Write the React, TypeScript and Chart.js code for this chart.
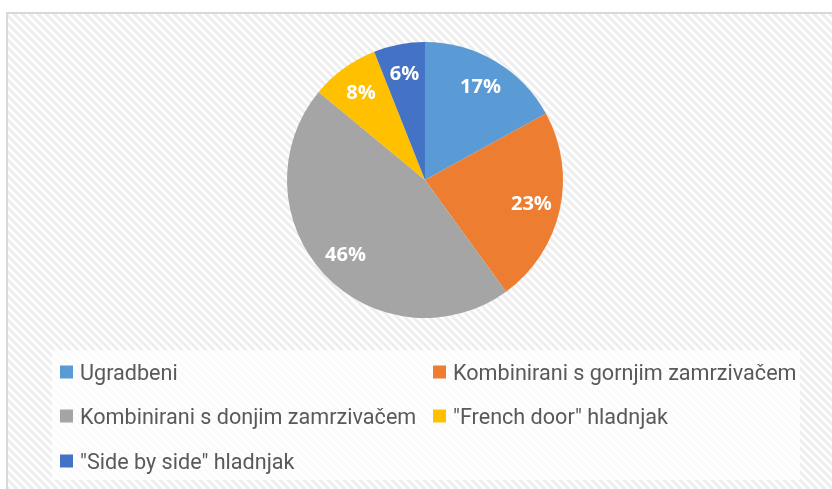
import React, { useEffect, useRef } from "react";
import { Chart, registerables } from "chart.js";

Chart.register(...registerables);

const categories = [
  "Ugradbeni",
  "Kombinirani s gornjim zamrzivačem",
  "Kombinirani s donjim zamrzivačem",
  "\"French door\" hladnjak",
  "\"Side by side\" hladnjak",
];
const shares = [17, 23, 46, 8, 6];
const sliceColors = ["#5B9BD5", "#ED7D31", "#A5A5A5", "#FFC000", "#4472C4"];

function makePattern(ctx: CanvasRenderingContext2D) {
  const s = 8;
  const c = document.createElement("canvas");
  c.width = s;
  c.height = s;
  const g = c.getContext("2d")!;
  g.fillStyle = "#ffffff";
  g.fillRect(0, 0, s, s);
  g.strokeStyle = "#eeeeee";
  g.lineWidth = 3;
  for (let k = -1; k <= 1; k++) {
    g.beginPath();
    g.moveTo(k * s - 2, -2);
    g.lineTo(k * s + s + 2, s + 2);
    g.stroke();
  }
  return ctx.createPattern(c, "repeat")!;
}

const bgPlugin = {
  id: "bgPlugin",
  beforeDraw(chart: any) {
    const ctx = chart.ctx as CanvasRenderingContext2D;
    ctx.save();
    ctx.fillStyle = "#ffffff";
    ctx.fillRect(0, 0, chart.width, chart.height);
    ctx.fillStyle = makePattern(ctx);
    ctx.fillRect(7, 13, chart.width - 7, chart.height - 13);
    ctx.fillStyle = "#d9d9d9";
    ctx.fillRect(6, 12, chart.width - 6, 2);
    ctx.fillRect(6, 12, 2, chart.height - 12);
    ctx.fillStyle = "rgba(255,255,255,0.7)";
    ctx.fillRect(52, 350, 748, 130);
    ctx.restore();
  },
};

const labelPlugin = {
  id: "labelPlugin",
  afterDatasetsDraw(chart: any) {
    const ctx = chart.ctx as CanvasRenderingContext2D;
    const meta = chart.getDatasetMeta(0);
    const data = chart.data.datasets[0].data as number[];
    const total = data.reduce((a, b) => a + b, 0);
    ctx.save();
    ctx.fillStyle = "#ffffff";
    ctx.font = "bold 20px 'Open Sans'";
    ctx.textAlign = "center";
    ctx.textBaseline = "middle";
    meta.data.forEach((arc: any, i: number) => {
      const mid = (arc.startAngle + arc.endAngle) / 2;
      const r = arc.outerRadius * 0.79;
      const x = arc.x + Math.cos(mid) * r;
      const y = arc.y + Math.sin(mid) * r;
      ctx.fillText(Math.round((data[i] / total) * 100) + "%", x, y + 1);
    });
    ctx.restore();
  },
  afterDraw(chart: any) {
    const ctx = chart.ctx as CanvasRenderingContext2D;
    const labels = chart.data.labels as string[];
    const colors = chart.data.datasets[0].backgroundColor as string[];
    ctx.save();
    ctx.font = "21.6px Roboto";
    ctx.textBaseline = "alphabetic";
    ctx.textAlign = "left";
    const colX = [60, 433];
    const rowY = [372, 416, 461];
    labels.forEach((lab, i) => {
      const x = colX[i % 2];
      const y = rowY[Math.floor(i / 2)];
      ctx.fillStyle = colors[i];
      ctx.fillRect(x, y - 6.5, 13, 13);
      ctx.fillStyle = "#595959";
      ctx.fillText(lab, x + 20, y + 8);
    });
    ctx.restore();
  },
};

export default function App() {
  const ref = useRef<HTMLCanvasElement>(null);
  useEffect(() => {
    const chart = new Chart(ref.current!, {
      type: "pie",
      data: {
        labels: categories,
        datasets: [
          {
            data: shares,
            backgroundColor: sliceColors,
            borderWidth: 0,
          },
        ],
      },
      options: {
        animation: false,
        responsive: false,
        layout: { padding: { top: 42, bottom: 171, left: 287, right: 269 } },
        plugins: {
          legend: { display: false },
          tooltip: { enabled: false },
        },
      },
      plugins: [bgPlugin, labelPlugin],
    });
    return () => chart.destroy();
  }, []);
  return (
    <div style={{ position: "fixed", left: 0, top: 0, width: 832, height: 489 }}>
      <canvas ref={ref} width={832} height={489} style={{ width: 832, height: 489 }} />
    </div>
  );
}
